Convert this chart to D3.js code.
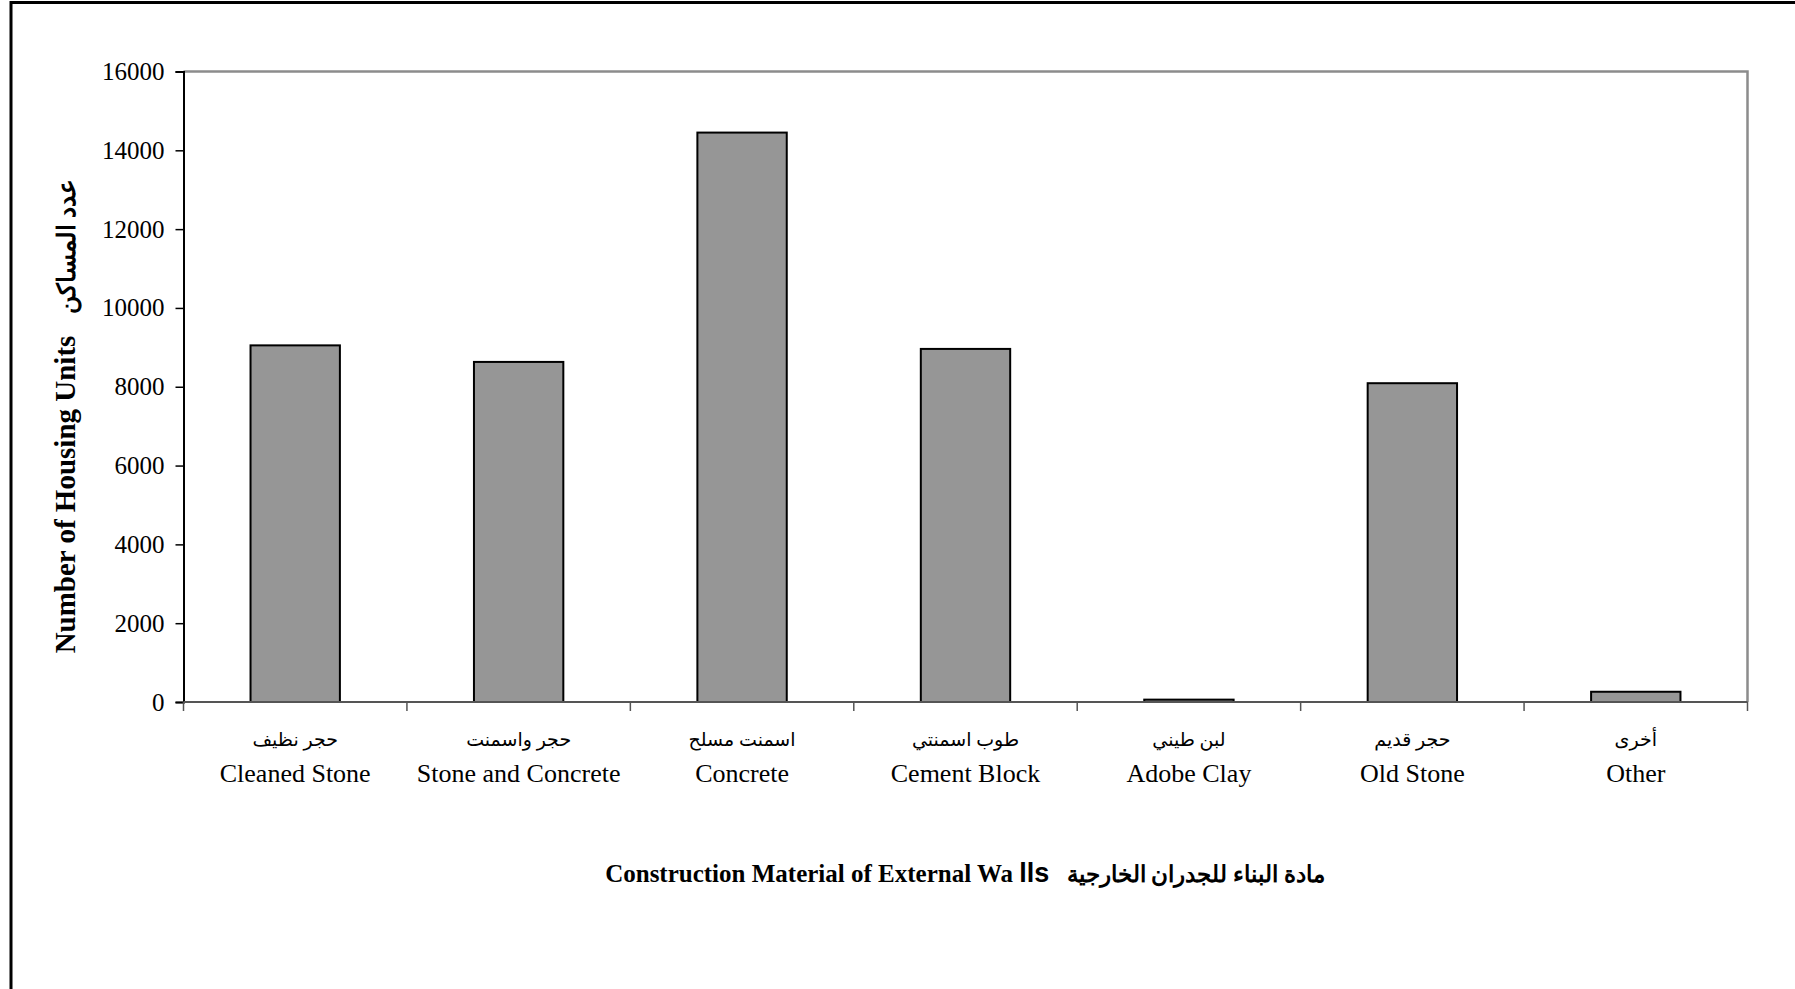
<!DOCTYPE html>
<html><head><meta charset="utf-8">
<script src="https://cdn.jsdelivr.net/npm/d3@7"></script>
<style>body{margin:0;background:#fff}svg{display:block}</style>
</head><body>
<script>
const categoriesEn = ["Cleaned Stone","Stone and Concrete","Concrete","Cement Block","Adobe Clay","Old Stone","Other"];
const categoriesAr = ["حجر نظيف","حجر واسمنت","اسمنت مسلح","طوب اسمنتي","لبن طيني","حجر قديم","أخرى"];
const values = [9050, 8630, 14450, 8960, 60, 8090, 260];
const yTicks = [0,2000,4000,6000,8000,10000,12000,14000,16000];

const W = 1795, H = 989;
const L = 183.5, R = 1747.5, T = 71.5, B = 702;
const svg = d3.select("body").append("svg").attr("width",W).attr("height",H);
svg.append("rect").attr("x",0).attr("y",0).attr("width",W).attr("height",H).attr("fill","#fff");
// outer frame
svg.append("rect").attr("x",11).attr("y",2.5).attr("width",W+20).attr("height",H+20)
  .attr("fill","none").attr("stroke","#000").attr("stroke-width",3);

const x = d3.scaleBand().domain(categoriesEn).range([L,R]).paddingInner(0).paddingOuter(0);
const y = d3.scaleLinear().domain([0,16000]).range([B,T]);
const serif = "'Liberation Serif','Times New Roman','DejaVu Serif',serif";

// plot frame top/right gray
svg.append("path").attr("d",`M${L},${T}H${R}V${B}`).attr("fill","none").attr("stroke","#8c8c8c").attr("stroke-width",2.5);

// bars
const bw = x.bandwidth()*0.4;
svg.selectAll("rect.bar").data(values).join("rect").attr("class","bar")
  .attr("x",(d,i)=>x(categoriesEn[i])+x.bandwidth()/2-bw/2)
  .attr("y",d=>y(d)).attr("width",bw).attr("height",d=>B-y(d))
  .attr("fill","#969696").attr("stroke","#000").attr("stroke-width",2);

// y axis
const yAxis = d3.axisLeft(y).tickValues(yTicks).tickSize(8).tickPadding(11).tickFormat(d3.format("d"));
const gy = svg.append("g").attr("transform",`translate(${L},0)`).call(yAxis);
gy.select(".domain").attr("stroke","#000").attr("stroke-width",2);
gy.selectAll(".tick line").attr("stroke","#000").attr("stroke-width",1.5);
gy.selectAll(".tick text").attr("font-family",serif).attr("font-size",25).attr("fill","#000");

// x axis (ticks at band boundaries)
const bounds = categoriesEn.map(c=>x(c)).concat([R]);
svg.append("line").attr("x1",L).attr("x2",R).attr("y1",B).attr("y2",B).attr("stroke","#555").attr("stroke-width",2);
svg.selectAll("line.xt").data(bounds).join("line").attr("class","xt")
  .attr("x1",d=>d).attr("x2",d=>d).attr("y1",B).attr("y2",B+9).attr("stroke","#555").attr("stroke-width",1.5);

const lab = svg.append("g");
categoriesEn.forEach((c,i)=>{
  const cx = x(c)+x.bandwidth()/2;
  lab.append("text").attr("x",cx).attr("y",746).attr("text-anchor","middle")
    .attr("font-family",serif+",'DejaVu Sans'").attr("font-size",19).text(categoriesAr[i]);
  lab.append("text").attr("x",cx).attr("y",782).attr("text-anchor","middle")
    .attr("font-family",serif).attr("font-size",26).text(c);
});

// y title
const yt = svg.append("text").attr("transform","translate(75,416) rotate(-90)").attr("text-anchor","middle")
  .attr("font-family",serif).attr("font-weight","bold").attr("font-size",29);
yt.append("tspan").text("Number of Housing Units\u00A0\u00A0\u00A0");
yt.append("tspan").attr("font-size",25).text("عدد المساكن");

// x title
const xt = svg.append("text").attr("x",965).attr("y",882).attr("text-anchor","middle")
  .attr("font-family",serif).attr("font-weight","bold").attr("font-size",25);
xt.append("tspan").text("Construction Material of External Wa\u00A0");
xt.append("tspan").attr("font-family","'Liberation Sans',Arial,sans-serif").attr("font-size",27).text("lls");
xt.append("tspan").attr("font-size",23).text("\u00A0\u00A0\u00A0مادة البناء للجدران الخارجية");
</script>
</body></html>
